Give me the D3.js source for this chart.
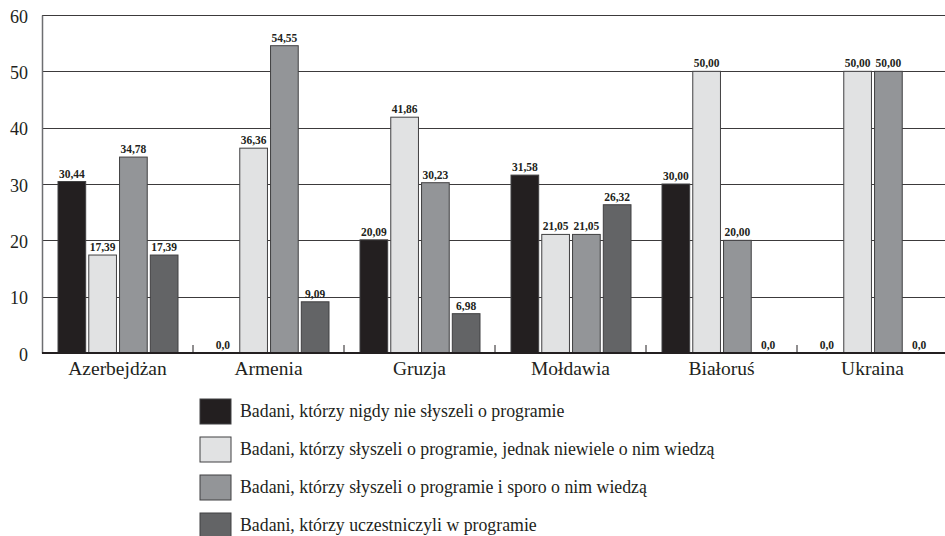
<!DOCTYPE html>
<html>
<head>
<meta charset="utf-8">
<script src="https://cdn.jsdelivr.net/npm/d3@7"></script>
<style>
  body { margin: 0; background: #fff; }
</style>
</head>
<body>
<div id="wrapper"></div>
<script>
// data
const countries = ["Azerbejdżan", "Armenia", "Gruzja", "Mołdawia", "Białoruś", "Ukraina"]
const seriesNames = [
  "Badani, którzy nigdy nie słyszeli o programie",
  "Badani, którzy słyszeli o programie, jednak niewiele o nim wiedzą",
  "Badani, którzy słyszeli o programie i sporo o nim wiedzą",
  "Badani, którzy uczestniczyli w programie",
]
const neverHeard = [30.44, 0, 20.09, 31.58, 30.00, 0]
const heardLittle = [17.39, 36.36, 41.86, 21.05, 50.00, 50.00]
const heardMuch = [34.78, 54.55, 30.23, 21.05, 20.00, 50.00]
const participated = [17.39, 9.09, 6.98, 26.32, 0, 0]
const yTicks = [0, 10, 20, 30, 40, 50, 60]

const seriesValues = [neverHeard, heardLittle, heardMuch, participated]
const colors = ["#231f20", "#e1e2e3", "#939598", "#636466"]
const serif = "'Liberation Serif', 'DejaVu Serif', serif"
const textColor = "#231f20"

const dimensions = {
  width: 945,
  height: 536,
  margin: { top: 15, left: 42, right: -3, bottom: 183 },
}
dimensions.boundedWidth = dimensions.width - dimensions.margin.left - dimensions.margin.right
dimensions.boundedHeight = dimensions.height - dimensions.margin.top - dimensions.margin.bottom

const wrapper = d3.select("#wrapper")
  .append("svg")
    .attr("width", dimensions.width)
    .attr("height", dimensions.height)
    .attr("font-family", serif)

const bounds = wrapper.append("g")
    .attr("transform", `translate(${dimensions.margin.left},${dimensions.margin.top})`)

// scales
const xScale = d3.scaleBand()
  .domain(countries)
  .range([0, dimensions.boundedWidth])

const innerScale = d3.scaleBand()
  .domain(d3.range(seriesNames.length))
  .range([16, xScale.bandwidth() - 15])
  .paddingInner(0.1)

const yScale = d3.scaleLinear()
  .domain([0, 60])
  .range([dimensions.boundedHeight, 0])

// gridlines
bounds.append("g")
  .selectAll("line")
  .data(yTicks.filter(d => d > 0))
  .join("line")
    .attr("x1", 0)
    .attr("x2", dimensions.boundedWidth)
    .attr("y1", d => Math.round(yScale(d)) + 0.5)
    .attr("y2", d => Math.round(yScale(d)) + 0.5)
    .attr("stroke", "#3c3a3b")
    .attr("stroke-width", 1.2)

// y axis
const yAxis = bounds.append("g")
  .call(d3.axisLeft(yScale).tickValues(yTicks).tickSize(0).tickPadding(14))
    .attr("font-family", serif)
yAxis.select(".domain").attr("stroke", "#6d6e71").attr("stroke-width", 1.5)
yAxis.selectAll("text")
    .attr("font-family", serif)
    .attr("font-size", 18)
    .attr("fill", textColor)
    .attr("dy", "0.4em")

// bars
const data = countries.map((c, i) => ({
  country: c,
  values: seriesValues.map((s, j) => ({ series: j, value: s[i] })),
}))

const groups = bounds.append("g")
  .selectAll("g")
  .data(data)
  .join("g")
    .attr("transform", d => `translate(${xScale(d.country)},0)`)

groups.selectAll("rect")
  .data(d => d.values)
  .join("rect")
    .attr("x", d => innerScale(d.series))
    .attr("y", d => yScale(d.value))
    .attr("width", innerScale.bandwidth())
    .attr("height", d => dimensions.boundedHeight - yScale(d.value))
    .attr("fill", d => colors[d.series])
    .attr("stroke", "#414042")
    .attr("stroke-width", 1)

const formatValue = v => v === 0 ? "0,0" : v.toFixed(2).replace(".", ",")

groups.selectAll("text")
  .data(d => d.values)
  .join("text")
    .attr("x", d => innerScale(d.series) + innerScale.bandwidth() / 2)
    .attr("y", d => yScale(d.value) - 4)
    .attr("text-anchor", "middle")
    .attr("font-family", serif)
    .attr("font-size", 11.5)
    .attr("font-weight", "bold")
    .attr("fill", textColor)
    .text(d => formatValue(d.value))

// x axis
const xAxis = bounds.append("g")
    .attr("transform", `translate(0,${dimensions.boundedHeight})`)

xAxis.append("line")
    .attr("x1", 0)
    .attr("x2", dimensions.boundedWidth)
    .attr("stroke", "#231f20")
    .attr("stroke-width", 2)

xAxis.selectAll(".tick-mark")
  .data(countries.slice(1))
  .join("line")
    .attr("class", "tick-mark")
    .attr("x1", d => xScale(d))
    .attr("x2", d => xScale(d))
    .attr("y1", 0)
    .attr("y2", -8)
    .attr("stroke", "#231f20")

xAxis.selectAll(".x-label")
  .data(countries)
  .join("text")
    .attr("class", "x-label")
    .attr("x", d => xScale(d) + xScale.bandwidth() / 2)
    .attr("y", 22)
    .attr("text-anchor", "middle")
    .attr("font-family", serif)
    .attr("font-size", 19.5)
    .attr("fill", textColor)
    .text(d => d)

// legend
const legend = wrapper.append("g")
    .attr("transform", "translate(200,399)")

const legendItems = legend.selectAll("g")
  .data(seriesNames)
  .join("g")
    .attr("transform", (d, i) => `translate(0,${i * 38})`)

legendItems.append("rect")
    .attr("width", 31)
    .attr("height", 25)
    .attr("fill", (d, i) => colors[i])
    .attr("stroke", "#414042")

legendItems.append("text")
    .attr("x", 40)
    .attr("y", 18)
    .attr("font-family", serif)
    .attr("font-size", 17.8)
    .attr("fill", textColor)
    .text(d => d)
</script>
</body>
</html>
